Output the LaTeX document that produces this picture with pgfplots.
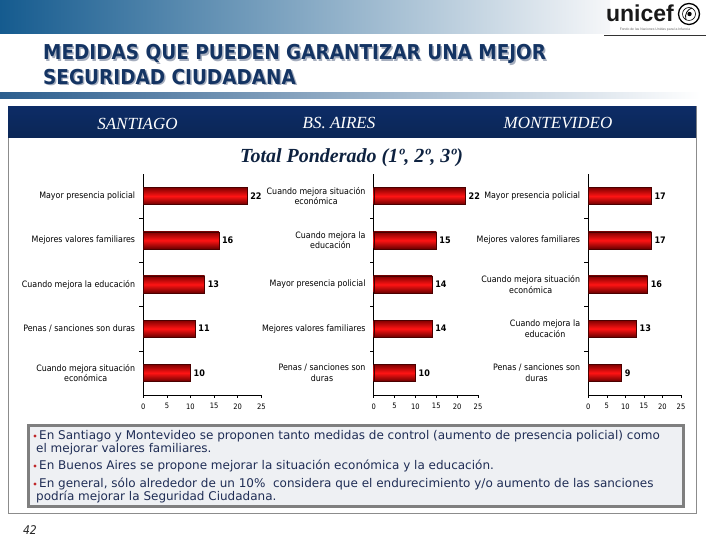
\documentclass[border=0pt]{standalone}
\usepackage{pgfplots}
\pgfplotsset{compat=1.18}
\usepackage{fontspec}
\setmainfont{Liberation Sans}
\newfontfamily\tahoma[FakeStretch=0.9]{DejaVu Sans}
\newfontfamily\verd{DejaVu Sans}
\newfontfamily\tnr{Liberation Serif}
\definecolor{bandL}{HTML}{155B8F}
\definecolor{bandM}{HTML}{A3AFC4}
\definecolor{bandR}{HTML}{F6F7F9}
\definecolor{lineL}{HTML}{2C5E8E}
\definecolor{lineM}{HTML}{AEB9C9}
\definecolor{titlecol}{HTML}{143463}
\definecolor{titleshadow}{HTML}{A6AEBE}
\definecolor{hbtop}{HTML}{0D2C66}
\definecolor{hbmid}{HTML}{2358A6}
\definecolor{hbbot}{HTML}{0B2655}
\definecolor{framecol}{HTML}{8C8C8C}
\definecolor{navy}{HTML}{0E2240}
\definecolor{boxfill}{HTML}{EEF0F3}
\definecolor{boxborder}{HTML}{7F7F7F}
\definecolor{bultext}{HTML}{1F2D55}
\definecolor{bulred}{HTML}{C0282A}
\definecolor{bardark}{HTML}{800000}
\definecolor{barbot}{HTML}{6A0000}
\definecolor{barmid}{HTML}{FF1414}
\definecolor{baredge}{HTML}{4A0000}

\pgfplotsset{
  catax/.style={
    scale only axis, height=221pt,
    xmin=0, xmax=25, ymin=0.5, ymax=5.5,
    axis lines*=left,
    axis line style={black, line width=0.5pt, -},
    xtick={0,5,...,25}, tick align=outside, major tick length=3pt,
    xtick style={black, line width=0.5pt},
    ytick={1,...,5}, ytick style={draw=none},
    xticklabel style={font=\tahoma\fontsize{7.5}{8}\selectfont, yshift=-2pt},
    yticklabel style={font=\tahoma\fontsize{8.8}{10.5}\selectfont, align=center, inner sep=0pt, xshift=-5pt},
    /pgf/number format/assume math mode=true,
    clip=false,
    xbar, bar width=17pt, bar shift=0pt,
    nodes near coords, point meta=x,
    nodes near coords style={font=\tahoma\bfseries\fontsize{9}{10}\selectfont, anchor=west, inner sep=0pt, xshift=3pt, black},
  },
  redbar/.style={draw=baredge, line width=0.4pt, top color=bardark, bottom color=barbot, middle color=barmid},
}

\begin{document}
\begin{tikzpicture}[x=1pt,y=1pt]
\path[use as bounding box, fill=white] (0,0) rectangle (720,540);

% top band
\shade[left color=bandL, middle color=bandM, right color=bandR] (0,506) rectangle (610,540);
% thin gradient line under title
\shade[left color=lineL, middle color=lineM, right color=white] (0,441) rectangle (700,447);

% logo
\node[font=\bfseries\fontsize{23}{23}\selectfont, text=black!90, inner sep=0pt] at (640,527) {unicef};
\draw[black, line width=1.3pt, fill=white] (689,526) circle (10.5);
\draw[black, line width=0.6pt] (689,526) circle (6.5);
\draw[black, line width=0.8pt] (686,520) .. controls (684,526) and (688,531) .. (692,532);
\fill[black] (689.5,526) circle (2.2);
\node[font=\fontsize{3.4}{4}\selectfont, text=black!60, inner sep=0pt] at (655,510.5) {Fondo de las Naciones Unidas para la Infancia};
\draw[black!80, line width=0.6pt] (604,505) -- (706,505);

% title
\begin{scope}[font=\tahoma\bfseries\fontsize{20.5}{23}\selectfont]
\node[anchor=west, inner sep=0pt, text=titleshadow] at (44.5,484.5) {MEDIDAS QUE PUEDEN GARANTIZAR UNA MEJOR};
\node[anchor=west, inner sep=0pt, text=titleshadow] at (44.5,461.5) {SEGURIDAD CIUDADANA};
\node[anchor=west, inner sep=0pt, text=titlecol] at (43,486) {MEDIDAS QUE PUEDEN GARANTIZAR UNA MEJOR};
\node[anchor=west, inner sep=0pt, text=titlecol] at (43,463) {SEGURIDAD CIUDADANA};
\end{scope}

% frame
\draw[framecol, line width=1pt] (8,433) rectangle (696,26);
% header bar
\shade[top color=hbtop, middle color=hbmid, bottom color=hbbot] (8,402) rectangle (696,433);
\begin{scope}[font=\tnr\itshape\fontsize{17}{17}\selectfont, text=white]
\node at (137.5,416.5) {SANTIAGO};
\node at (339,416.5) {BS. AIRES};
\node at (558,416.5) {MONTEVIDEO};
\end{scope}
\node[font=\tnr\bfseries\itshape\fontsize{20}{20}\selectfont, text=navy] at (351.5,382) {Total Ponderado (1º, 2º, 3º)};

% chart 1: Santiago
\begin{axis}[catax, at={(143.3pt,145pt)}, anchor=south west, width=118pt,
  yticklabels={{Cuando mejora situación\\económica},{Penas / sanciones son duras},{Cuando mejora la educación},{Mejores valores familiares},{Mayor presencia policial}}]
\addplot[redbar] coordinates {(22,5)};
\addplot[redbar] coordinates {(16,4)};
\addplot[redbar] coordinates {(13,3)};
\addplot[redbar] coordinates {(11,2)};
\addplot[redbar] coordinates {(10,1)};
\pgfplotsinvokeforeach{1.5,2.5,3.5,4.5}{\draw[black, line width=0.5pt] (axis cs:0,#1) -- ++(-4pt,0pt);}
\end{axis}

% chart 2: Buenos Aires
\begin{axis}[catax, at={(373.7pt,145pt)}, anchor=south west, width=104.3pt,
  yticklabels={{Penas / sanciones son\\duras},{Mejores valores familiares},{Mayor presencia policial},{Cuando mejora la\\educación},{Cuando mejora situación\\económica}}]
\addplot[redbar] coordinates {(22,5)};
\addplot[redbar] coordinates {(15,4)};
\addplot[redbar] coordinates {(14,3)};
\addplot[redbar] coordinates {(14,2)};
\addplot[redbar] coordinates {(10,1)};
\pgfplotsinvokeforeach{1.5,2.5,3.5,4.5}{\draw[black, line width=0.5pt] (axis cs:0,#1) -- ++(-4pt,0pt);}
\end{axis}

% chart 3: Montevideo
\begin{axis}[catax, at={(588.3pt,145pt)}, anchor=south west, width=92.7pt,
  yticklabels={{Penas / sanciones son\\duras},{Cuando mejora la\\educación},{Cuando mejora situación\\económica},{Mejores valores familiares},{Mayor presencia policial}}]
\addplot[redbar] coordinates {(17,5)};
\addplot[redbar] coordinates {(17,4)};
\addplot[redbar] coordinates {(16,3)};
\addplot[redbar] coordinates {(13,2)};
\addplot[redbar] coordinates {(9,1)};
\pgfplotsinvokeforeach{1.5,2.5,3.5,4.5}{\draw[black, line width=0.5pt] (axis cs:0,#1) -- ++(-4pt,0pt);}
\end{axis}

% bullet box
\draw[boxborder, line width=3pt, fill=boxfill] (28.5,114.5) rectangle (683.5,33.5);
\begin{scope}[font=\verd\fontsize{12}{13}\selectfont, text=bultext]
\node[anchor=west, inner sep=0pt] at (39,104) {En Santiago y Montevideo se proponen tanto medidas de control (aumento de presencia policial) como};
\node[anchor=west, inner sep=0pt] at (36,91) {el mejorar valores familiares.};
\node[anchor=west, inner sep=0pt] at (39,74) {En Buenos Aires se propone mejorar la situación económica y la educación.};
\node[anchor=west, inner sep=0pt] at (39,56) {En general, sólo alrededor de un 10\%\ \ considera que el endurecimiento y/o aumento de las sanciones};
\node[anchor=west, inner sep=0pt] at (36,43) {podría mejorar la Seguridad Ciudadana.};
\end{scope}
\foreach \yy in {104,74,56} \fill[bulred] (35,\yy) circle (1.6);

% page number
\node[font=\tahoma\itshape\fontsize{12}{12}\selectfont, text=black!85] at (30,10) {42};
\end{tikzpicture}
\end{document}
